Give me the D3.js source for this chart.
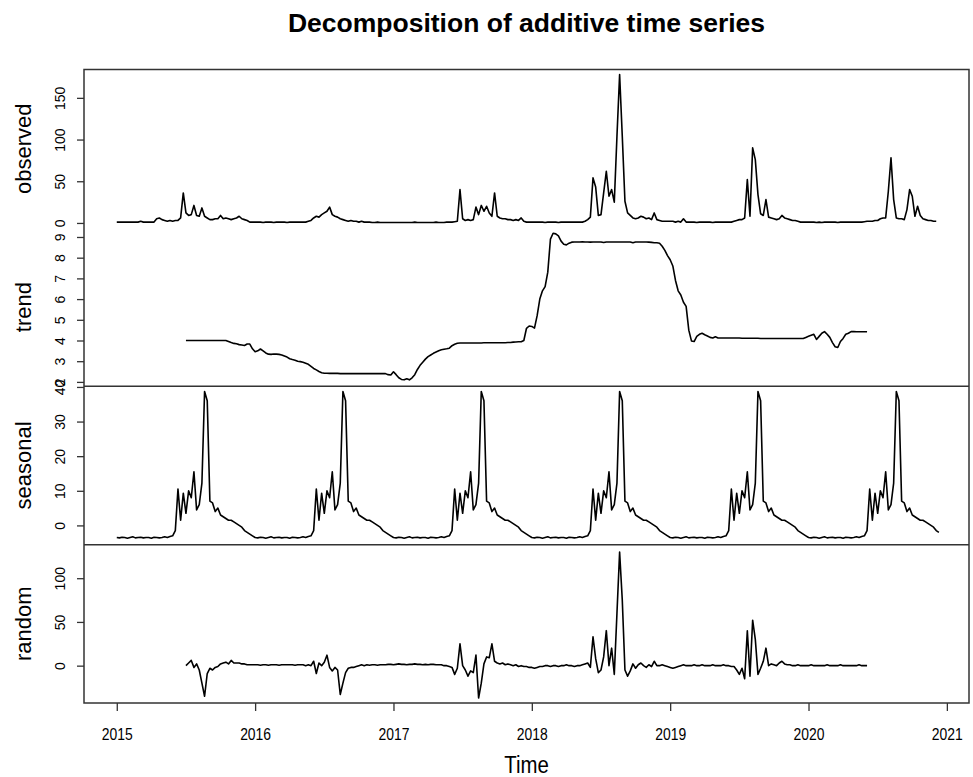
<!DOCTYPE html>
<html>
<head>
<meta charset="utf-8">
<script src="https://cdn.jsdelivr.net/npm/d3@7"></script>
<style>
  body { margin: 0; background: #fff; }
  text { font-family: "Liberation Sans", Arial, sans-serif; fill: #000; }
</style>
</head>
<body>
<div id="chart"></div>
<script>
// weekly series, first value at 2015.0
var startYear = 2015;
var frequency = 52;

var observed = [
  // 2015
  1,1,1,1,1,1,1,1, 1,2,1,1,1,1,1, 5,6,4, 3,2,3,2,3,3,
  6,36,12,9,10,21,9,8,18,8,6, 4,4,5,5,9,5,6,5,4,5,6,8,5,4,3,1,1,
  // 2016
  1,1,1,0.5,1,1,1,0.5,1,1,1,1,0.5,1,1,1,1,1,1,1,2, 3,
  6,8,7,10,12,14,19,10,8,7,5,4, 3,2,3,2,2,1,2,1,
  1,1,0.5,0.5,1,0.5,0.5,0.5,0.5,0.5,
  // 2017
  0.5,0.5,0.5,0.5,0.5,0.5,0.5,0.5,1,0.5,0.5,0.5,0.5,0.5,0.5,0.5,1,0.5,0.5,0.5,1,1,1,1.5,2,
  40,5, 3,4,3,4, 19,10,21,14,20,12,8,36,8, 6,5,5,4,4,3,4,3, 6, 2,1,1,
  // 2018
  1,1,1,1,1,0.5,1,1,1,1,0.5,1,1,1,1,1,1,1,1,1,2, 4,7,
  54,43,9,10,36,62,32,40,25,104,178,104,26,12,9, 6,5,6,8,7,5,6,4, 12, 4,3,2,2,2,
  // 2019
  2,2,1,2,1, 5, 1,1,1,1,0.5,1,1,1,1,1,0.5,1,1,1,1,1,1,1,2, 3,4,4,6,
  52,8,90,76,34,11,9,28,7, 6,5,4,5, 9, 6,5,4,3,3,2,1,1,1,
  // 2020
  1,1,1,0.5,1,0.5,1,1,1,1,1,0.5,1,1,1,1,1,1,1,1,1,1.5,2,2,
  2,3,3,5,6,6, 38,78,28,6,5,5,4,16,40,32,8,20,9, 5,4,3,3,2,2
];

// trend and random start half a year in (week 26)
var trendStartWeek = 26;

var trend = [
  4.0,4.0,4.0,4.0,4.0,4.0,4.0,4.0,4.0,4.0,4.0,4.0,4.0,4.0,4.0,4.0,
  3.95,3.9,3.86,3.84,3.8,3.78,3.76,3.83, 3.83,3.6,3.46,3.5, 3.59,3.5,3.4,3.34,
  3.33,3.35,3.34,3.33,3.3, 3.25,3.2,3.12,3.08,3.05, 3.0,2.98,2.95,2.9,
  2.85,2.75,2.65,2.58,2.5,2.44,
  2.42,2.42,2.41,2.41,2.41,2.41,2.4,2.4,2.4,2.4,2.4,2.4,2.4,2.4,2.4,2.4,2.4,2.4,2.4,2.4,2.4,2.4,2.4,2.4,
  2.35,2.33,2.49, 2.35,2.2,2.12,2.1,2.15,2.1,2.2, 2.35,2.6,2.8,2.95,3.1,3.22,
  3.3,3.38,3.44,3.5,3.55,3.58,3.6,3.63, 3.75,3.82,3.87,
  3.88,3.88,3.88,3.88,3.88,3.88,3.88,3.88,3.88,3.89,3.89,3.89,3.89,3.89,3.89,3.89,3.89,3.89,3.9,3.9,3.92,3.93,3.94,3.94,
  4.0, 4.59,4.7,4.68,4.6,
  5.2,6.0,6.4,6.6,7.3,8.9,9.18,9.15,9.05,8.8,8.65,8.62,8.7,8.75,8.76,
  8.76,8.76,8.77,8.76,8.76,8.75,8.76,8.76,8.76,8.76,8.73,8.76,8.76,8.76,8.76,8.76,
  8.76,8.76,8.76,8.76,8.76,8.72,8.76,8.76,8.76,8.76,8.76,8.75,8.74,8.72,8.72,8.7,
  8.55,8.35,8.1,7.9,7.6,6.9,6.4,6.2,5.85,5.65,4.5,3.98,3.95,4.2,4.3,4.35,4.28,4.22,4.15,4.12,4.18,
  4.12,4.12,4.12,4.12,4.12,4.12,4.12,4.12,4.12,4.11,4.11,4.11,4.11,4.11,4.11,4.11,4.1,
  4.1,4.1,4.1,4.1,4.1,4.1,4.1,4.1,4.1,4.1,4.1,4.1,4.1,4.1,4.1,4.1,
  4.15,4.2,4.25,4.3,
  4.05,4.2,4.35,4.43,4.3,4.15,3.9,3.7,3.66,3.95,4.1,4.3,4.35,
  4.43,4.43,4.42,4.42,4.42,4.42,4.42
];

var seasonal = [
  // 2015
  -3.5,-3.6,-3.4,-3.5,-3.7,-3.5,-3.3,-3.6,-3.5,-3.4,-3.6,-3.5,-3.5,-3.7,-3.4,-3.5,-3.6,-3.5,-3.3,-3.5,-3.2,
  -3.0,-1.5,10.5,1.5,9.3,3.5,10.0,8.0,15.5,4.5,6,12.2,38.7,36,7,6.5,4,5,3,2.5,2,1.5,1.5,1,0.5,0,-0.5,-1.5,-2,-2.5,-3.0,
  // 2016
  -3.5,-3.6,-3.4,-3.5,-3.7,-3.5,-3.3,-3.6,-3.5,-3.4,-3.6,-3.5,-3.5,-3.7,-3.4,-3.5,-3.6,-3.5,-3.3,-3.5,-3.2,
  -3.0,-1.5,10.5,1.5,9.3,3.5,10.0,8.0,15.5,4.5,6,12.2,38.7,36,7,6.5,4,5,3,2.5,2,1.5,1.5,1,0.5,0,-0.5,-1.5,-2,-2.5,-3.0,
  // 2017
  -3.5,-3.6,-3.4,-3.5,-3.7,-3.5,-3.3,-3.6,-3.5,-3.4,-3.6,-3.5,-3.5,-3.7,-3.4,-3.5,-3.6,-3.5,-3.3,-3.5,-3.2,
  -3.0,-1.5,10.5,1.5,9.3,3.5,10.0,8.0,15.5,4.5,6,12.2,38.7,36,7,6.5,4,5,3,2.5,2,1.5,1.5,1,0.5,0,-0.5,-1.5,-2,-2.5,-3.0,
  // 2018
  -3.5,-3.6,-3.4,-3.5,-3.7,-3.5,-3.3,-3.6,-3.5,-3.4,-3.6,-3.5,-3.5,-3.7,-3.4,-3.5,-3.6,-3.5,-3.3,-3.5,-3.2,
  -3.0,-1.5,10.5,1.5,9.3,3.5,10.0,8.0,15.5,4.5,6,12.2,38.7,36,7,6.5,4,5,3,2.5,2,1.5,1.5,1,0.5,0,-0.5,-1.5,-2,-2.5,-3.0,
  // 2019
  -3.5,-3.6,-3.4,-3.5,-3.7,-3.5,-3.3,-3.6,-3.5,-3.4,-3.6,-3.5,-3.5,-3.7,-3.4,-3.5,-3.6,-3.5,-3.3,-3.5,-3.2,
  -3.0,-1.5,10.5,1.5,9.3,3.5,10.0,8.0,15.5,4.5,6,12.2,38.7,36,7,6.5,4,5,3,2.5,2,1.5,1.5,1,0.5,0,-0.5,-1.5,-2,-2.5,-3.0,
  // 2020
  -3.5,-3.6,-3.4,-3.5,-3.7,-3.5,-3.3,-3.6,-3.5,-3.4,-3.6,-3.5,-3.5,-3.7,-3.4,-3.5,-3.6,-3.5,-3.3,-3.5,-3.2,
  -3.0,-1.5,10.5,1.5,9.3,3.5,10.0,8.0,15.5,4.5,6,12.2,38.7,36,7,6.5,4,5,3,2.5,2,1.5,1.5,1,0.5,0,-0.5,-1.5,-2
];

var random = [
  0,3,6,-2,2,-5, -20,-35,-9, -3,-5,-2,-1,2,3, 4,2,6,3,3, 3,2,2,1,1,1,
  1,1,0.5,1,1,0.5,1,1,1,0.5,1,1,1,1,1,0.5,1,1,1,0,1,0,
  5,-9,3,0,4,12, -2,-6,-2,-5, -33,-20, -8,-3,-2,-2,-1,
  0,1,0,1,0.5,1,1,0.5,1,1,1,
  1.5,1.5,1,1.5,2,1.5,1.5,1,1.5,1.5,2,1.5,1.5,1,1.5,1,1.5,1.5,1,1,1,0,0,-1,
  -2,-10,-3, 25, 0,-5,-12,-6,-8, 12, -37,-20, 2,10,9, 25,
  5,3,2,3,1,2,1,0,1,-1,0,
  -1,-1,-2,-2,-3,-2,-1,-1,0,0,-1,0,0,-1,0,0,1,0,0,-1,0,0,1,2,
  3,-2,33,8,-8,-5,10,40,0,20,-10,60,130,75,-5,-12,-6,
  2,-3,1,3,0,-2,1,-1,5,
  0,0,1,0,-1,-2,-3,-2,-1,0,1,0,0,0,1,0,0,1,0,0,0,1,0,0,0,1,0,0,-1,-1,
  -5,-10,-3,-15, 40,-12,52,30,-10,-3,5,20,0, 2,1,0,3,5,
  2,1,1,0,0,1,0,0,0,0,1,0,0,0,0,0,1,0,0,0,0,1,0,0,0,0,0,0,1,0,0,0
];

var panelNames = ["observed", "trend", "seasonal", "random"];
var panelDomains = [[-5.9, 184], [1.79, 9.44], [-5.55, 40.2], [-42.7, 138.4]];
var panelTicks = [[0, 50, 100, 150], [2, 3, 4, 5, 6, 7, 8, 9], [0, 10, 20, 30, 40], [0, 50, 100]];
var yearTicks = [2015, 2016, 2017, 2018, 2019, 2020, 2021];

var width = 973, height = 777;
var margin = { top: 69.5, right: 4, bottom: 74, left: 84 };
var plotW = width - margin.left - margin.right;
var plotH = height - margin.top - margin.bottom;
var panelH = plotH / 4;

var svg = d3.select("#chart").append("svg")
    .attr("width", width)
    .attr("height", height);

// turn a weekly array into {t, v} points
function toPoints(values, offset) {
  return values.map(function(v, i) {
    return { t: startYear + (i + offset) / frequency, v: v };
  });
}

var series = [
  toPoints(observed, 0),
  toPoints(trend, trendStartWeek),
  toPoints(seasonal, 0),
  toPoints(random, trendStartWeek)
];

// x range padded 4% like R's plot.ts
var tMin = startYear, tMax = startYear + (observed.length - 1) / frequency;
var pad = (tMax - tMin) * 0.04;
var x = d3.scaleLinear()
    .domain([tMin - pad, tMax + pad])
    .range([margin.left, margin.left + plotW]);

svg.append("text")
    .attr("x", margin.left + plotW / 2)
    .attr("y", 32)
    .attr("text-anchor", "middle")
    .style("font-size", "26.5px")
    .style("font-weight", "bold")
    .text("Decomposition of additive time series");

panelNames.forEach(function(name, k) {
  var top = margin.top + k * panelH;
  var y = d3.scaleLinear()
      .domain(panelDomains[k])
      .range([top + panelH, top]);

  var line = d3.line()
      .x(function(d) { return x(d.t); })
      .y(function(d) { return y(d.v); });

  svg.append("path")
      .datum(series[k])
      .attr("fill", "none")
      .attr("stroke", "#000")
      .attr("stroke-width", 1.6)
      .attr("stroke-linejoin", "round")
      .attr("d", line);

  var yAxis = d3.axisLeft(y)
      .tickValues(panelTicks[k])
      .tickSize(7)
      .tickFormat(d3.format("d"));

  var g = svg.append("g")
      .attr("transform", "translate(" + margin.left + ",0)")
      .call(yAxis);
  g.select(".domain").remove();
  g.selectAll(".tick line").attr("stroke", "#333").attr("stroke-width", 1.3);
  // R style: labels parallel to the axis
  g.selectAll(".tick text")
      .attr("x", 0).attr("y", 0).attr("dy", 0)
      .attr("text-anchor", "middle")
      .attr("transform", "translate(-19,0) rotate(-90)")
      .style("font-size", "14px")
      .style("font-family", "'Liberation Sans', Arial, sans-serif");

  svg.append("text")
      .attr("transform", "translate(31," + (top + panelH / 2) + ") rotate(-90)")
      .attr("text-anchor", "middle")
      .style("font-size", "22px")
      .text(name);

  // separators only below trend and seasonal
  if (k >= 2) {
    svg.append("line")
        .attr("x1", margin.left).attr("x2", margin.left + plotW)
        .attr("y1", top).attr("y2", top)
        .attr("stroke", "#333").attr("stroke-width", 1.5);
  }
});

svg.append("rect")
    .attr("x", margin.left).attr("y", margin.top)
    .attr("width", plotW).attr("height", plotH)
    .attr("fill", "none")
    .attr("stroke", "#333")
    .attr("stroke-width", 1.5);

var xAxis = d3.axisBottom(x)
    .tickValues(yearTicks)
    .tickSize(8)
    .tickPadding(17)
    .tickFormat(d3.format("d"));

var gx = svg.append("g")
    .attr("transform", "translate(0," + (margin.top + plotH) + ")")
    .call(xAxis);
gx.select(".domain").remove();
gx.selectAll(".tick line").attr("stroke", "#333").attr("stroke-width", 1.3);
// year labels look narrow and tall in the picture
gx.selectAll(".tick text")
    .attr("transform", "scale(0.82,1)")
    .style("font-size", "17px")
    .style("font-family", "'Liberation Sans', Arial, sans-serif");

svg.append("text")
    .attr("transform", "translate(" + (margin.left + plotW / 2) + ",773) scale(0.85,1)")
    .attr("text-anchor", "middle")
    .style("font-size", "24px")
    .text("Time");
</script>
</body>
</html>
